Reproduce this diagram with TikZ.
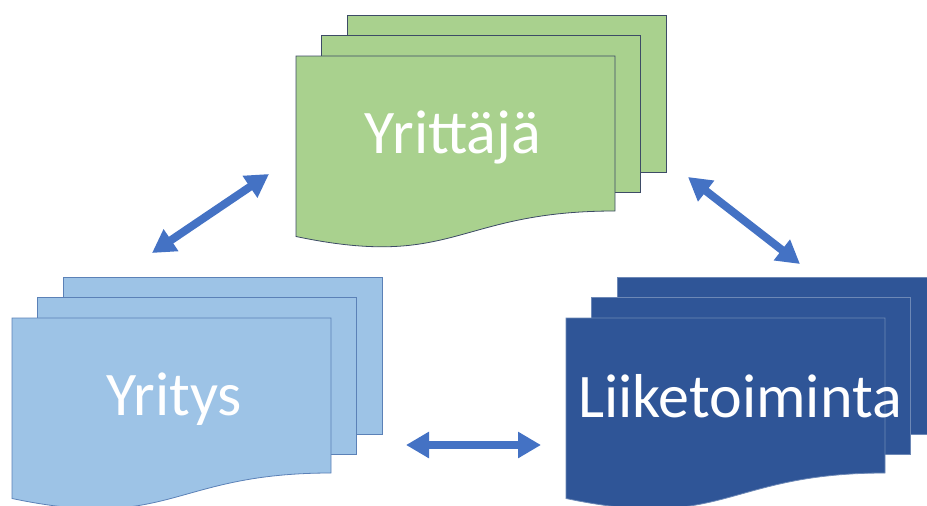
\documentclass[tikz,border=0pt]{standalone}
\usepackage{fontspec}
\setmainfont{Carlito}
\usetikzlibrary{arrows.meta}

\definecolor{sheetgreen}{HTML}{A9D18E}
\definecolor{sheetlight}{HTML}{9DC3E6}
\definecolor{sheetdark}{HTML}{2F5597}
\definecolor{arrowblue}{HTML}{4472C4}

\begin{document}
\begin{tikzpicture}[
    x=1pt, y=-1pt,
    docstack/.pic={
        % two sheets behind, then the front page with its wavy bottom
        \path[pic actions] (51,-41) rectangle ++(319,157);
        \path[pic actions] (25.5,-20.5) rectangle ++(319,157);
        \path[pic actions] (0,0) -- (319,0) -- (319,155)
            .. controls (159.5,155) and (159.5,214) .. (0,180.5) -- cycle;
    },
    green/.style={
        fill=sheetgreen,
        draw=sheetgreen!45!black!80!blue,
        line width=0.8pt
    },
    light/.style={
        fill=sheetlight,
        draw=sheetlight!40!sheetdark,
        line width=0.8pt
    },
    dark/.style={
        fill=sheetdark,
        draw=sheetdark!70!white,
        line width=0.8pt
    },
    label/.style={
        text=white,
        anchor=base,
        inner sep=0pt,
        font=\fontsize{62}{68}\selectfont
    },
    arrow/.style={
        {Triangle[length=23pt,width=25pt]}-{Triangle[length=23pt,width=25pt]},
        line width=8pt,
        draw=arrowblue
    }
]

\useasboundingbox (0,0) rectangle (927,506);
\clip (0,0) rectangle (927,506);

\pic[green] at (296,56) {docstack};
\pic[light] at (12,318) {docstack};
\pic[dark] at (566,318) {docstack};

\node[label] (yrittaja) at (453,153) {Yrittäjä};
\node[label] (yritys) at (174,415) {Yritys};
\node[label] (liiketoiminta) at (740,417) {Liiketoiminta};

\coordinate (yritys-up) at (152,253);
\coordinate (yrittaja-left) at (269,174);
\coordinate (yrittaja-right) at (688,177);
\coordinate (liike-up) at (800,264);
\coordinate (yritys-right) at (406,445);
\coordinate (liike-left) at (541,445);

\draw[arrow] (yritys-up) -- (yrittaja-left);
\draw[arrow] (yrittaja-right) -- (liike-up);
\draw[arrow] (yritys-right) -- (liike-left);

\end{tikzpicture}
\end{document}
